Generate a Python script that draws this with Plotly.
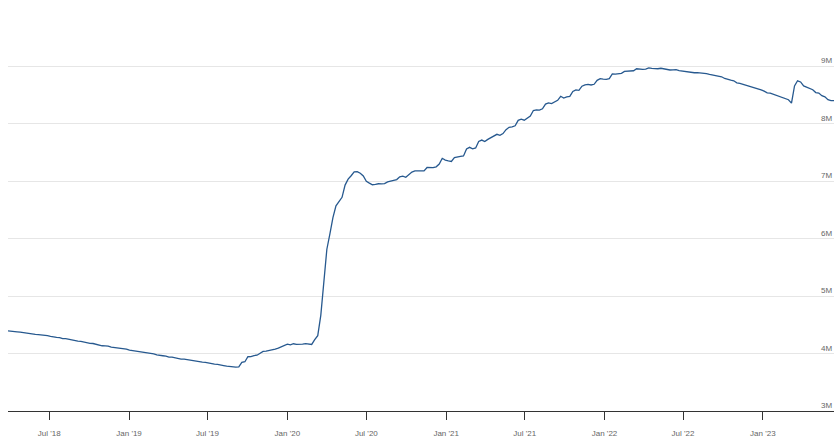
import pandas as pd
import plotly.graph_objects as go

# Weekly total assets (in M, as shown on the axis), Wednesdays from 2018-03-28
assets_2018 = [4.394, 4.392, 4.390, 4.377, 4.372,
               4.362, 4.360, 4.349, 4.344, 4.333,
               4.331, 4.328, 4.317, 4.313,
               4.300, 4.298, 4.283, 4.278,
               4.262, 4.260, 4.246, 4.238, 4.228,
               4.216, 4.214, 4.199, 4.193,
               4.177, 4.175, 4.158, 4.152, 4.136,
               4.134, 4.131, 4.112, 4.106,
               4.089, 4.087, 4.084, 4.076]
assets_2019 = [4.058, 4.051, 4.046, 4.032, 4.025,
               4.018, 4.015, 4.000, 3.993,
               3.977, 3.974, 3.962, 3.955,
               3.939, 3.937, 3.925, 3.918,
               3.905, 3.903, 3.893, 3.886, 3.878,
               3.866, 3.864, 3.852, 3.847,
               3.833, 3.831, 3.818, 3.810, 3.795,
               3.792, 3.780, 3.775, 3.760,
               3.763, 3.769, 3.846, 3.858,
               3.945, 3.946, 3.966, 3.971, 3.999,
               4.038, 4.043, 4.051, 4.064,
               4.077, 4.095, 4.122, 4.143]
assets_2020 = [4.165, 4.153, 4.171, 4.160, 4.158,
               4.166, 4.172, 4.169, 4.159,
               4.241, 4.312, 4.666, 5.254,
               5.817, 6.083, 6.368, 6.573, 6.656,
               6.721, 6.934, 7.037, 7.097,
               7.165, 7.169, 7.140, 7.092,
               7.001, 6.969, 6.940, 6.945, 6.957,
               6.955, 6.959, 6.990, 7.005,
               7.010, 7.030, 7.078, 7.090, 7.070,
               7.120, 7.160, 7.180, 7.180,
               7.172, 7.180, 7.240, 7.240,
               7.238, 7.252, 7.300, 7.400, 7.370]
assets_2021 = [7.357, 7.346, 7.414, 7.430,
               7.435, 7.441, 7.562, 7.591,
               7.565, 7.580, 7.693, 7.718, 7.691,
               7.730, 7.763, 7.800, 7.818,
               7.800, 7.830, 7.899, 7.940,
               7.946, 7.966, 8.061, 8.081, 8.064,
               8.103, 8.137, 8.232, 8.245,
               8.239, 8.262, 8.345, 8.365,
               8.353, 8.375, 8.410, 8.480, 8.448,
               8.468, 8.478, 8.564, 8.590,
               8.583, 8.656, 8.680, 8.686,
               8.677, 8.689, 8.758, 8.788, 8.780]
assets_2022 = [8.776, 8.788, 8.868, 8.866,
               8.876, 8.880, 8.914, 8.920,
               8.916, 8.925, 8.960, 8.952, 8.950,
               8.952, 8.975, 8.965, 8.958,
               8.960, 8.968, 8.955, 8.940,
               8.938, 8.940, 8.945, 8.928, 8.920,
               8.905, 8.902, 8.902, 8.890,
               8.892, 8.888, 8.886, 8.875, 8.862,
               8.852, 8.850, 8.840, 8.820,
               8.790, 8.772, 8.760, 8.750,
               8.715, 8.705, 8.690, 8.665, 8.650,
               8.640, 8.625, 8.610, 8.590]
assets_2023 = [8.570, 8.540, 8.535, 8.515,
               8.500, 8.475, 8.455, 8.430,
               8.420, 8.360, 8.660, 8.750, 8.730,
               8.660, 8.640, 8.620, 8.595,
               8.545, 8.535, 8.490, 8.470, 8.420,
               8.405, 8.405]

values = assets_2018 + assets_2019 + assets_2020 + assets_2021 + assets_2022 + assets_2023
dates = pd.date_range("2018-03-28", periods=len(values), freq="W-WED")

x_tick_dates = ["2018-07-01", "2019-01-01", "2019-07-01", "2020-01-01", "2020-07-01",
                "2021-01-01", "2021-07-01", "2022-01-01", "2022-07-01", "2023-01-01"]
x_tick_labels = ["Jul '18", "Jan '19", "Jul '19", "Jan '20", "Jul '20",
                 "Jan '21", "Jul '21", "Jan '22", "Jul '22", "Jan '23"]
y_tick_vals = [3, 4, 5, 6, 7, 8, 9, 10]
y_tick_labels = ["3M", "4M", "5M", "6M", "7M", "8M", "9M"]

FONT = "Liberation Sans, Arial, sans-serif"

fig = go.Figure()
fig.add_trace(go.Scatter(x=dates, y=values, mode="lines",
                         line=dict(color="#27598f", width=1.3),
                         hoverinfo="skip", showlegend=False))

fig.update_xaxes(type="date", range=[dates[0], dates[-1]],
                 tickvals=x_tick_dates, ticktext=x_tick_labels,
                 ticks="outside", ticklen=8, tickwidth=1, tickcolor="#333333",
                 ticklabelstandoff=6,
                 showline=True, linecolor="#333333", linewidth=1,
                 showgrid=False, zeroline=False,
                 tickfont=dict(family=FONT, size=8, color="#666666"))
fig.update_yaxes(range=[3, 10], tickvals=y_tick_vals, showticklabels=False,
                 showgrid=True, gridcolor="#e6e6e6", gridwidth=1,
                 zeroline=False, showline=False)

for v, lab in zip(y_tick_vals, y_tick_labels):
    fig.add_annotation(x=1, xref="paper", y=v, yref="y", text=lab,
                       showarrow=False, xanchor="right", yanchor="bottom",
                       yshift=-1,
                       font=dict(family=FONT, size=8, color="#666666"))

fig.update_layout(width=840, height=448,
                  margin=dict(l=8, r=6, t=9, b=37),
                  paper_bgcolor="white", plot_bgcolor="white",
                  hovermode=False)

fig.write_html("out.html", config={"displayModeBar": False},
               post_script="document.body.style.margin='0';document.body.style.overflow='hidden';")
